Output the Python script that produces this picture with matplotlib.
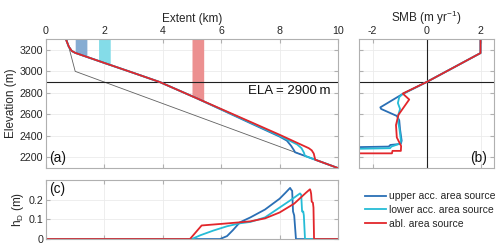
import matplotlib
matplotlib.use("Agg")
import matplotlib.pyplot as plt
import numpy as np

plt.rcParams['font.family'] = ['Liberation Sans', 'DejaVu Sans']
plt.rcParams['mathtext.default'] = 'regular'
plt.rcParams['axes.unicode_minus'] = False
plt.rcParams['font.size'] = 7.7

# --- data ---
labels = ['upper acc. area source', 'lower acc. area source', 'abl. area source']
colors = ['#2a6fb5', '#25bcd6', '#e2262b']
band_colors = ['#86acd2', '#84dce8', '#ec9090']
bands = [(1.0, 1.4), (1.8, 2.2), (5.0, 5.4)]
ela = 2900

# bed (thin grey)
bed_x = [0.71, 1.0, 10.0]
bed_z = [3300, 3000, 2100]

# glacier surfaces (a)
surf_top_x = [0.68, 0.78, 0.88, 1.0, 2.0, 3.0, 3.9, 5.2]
surf_top_z = [3300, 3230, 3190, 3172, 3078, 2985, 2900, 2745]
surf_up_x = [7.0, 8.0, 8.25, 8.4, 8.5, 8.53, 10.0]
surf_up_z = [2518, 2393, 2355, 2305, 2262, 2247, 2100]
surf_lo_x = [7.0, 8.0, 8.6, 8.75, 8.83, 8.87, 10.0]
surf_lo_z = [2524, 2400, 2320, 2285, 2245, 2213, 2100]
surf_abl_x = [7.0, 8.0, 8.6, 9.0, 9.1, 9.17, 9.22, 10.0]
surf_abl_z = [2530, 2410, 2335, 2285, 2265, 2235, 2178, 2100]

# SMB profiles (b)
smb_up = [2, 2, 0, -0.88, -1.71, -1.68, -1.1, -1.01, -0.98, -0.92, -0.95, -1.34, -1.4, -3.0]
z_up = [3300, 3170, 2900, 2790, 2665, 2650, 2585, 2545, 2462, 2355, 2325, 2315, 2300, 2293]
smb_lo = [2, 2, 0, -0.88, -1.01, -1.06, -0.98, -1.05, -1.06, -1.0, -0.95, -0.96, -1.3, -1.35, -3.0]
z_lo = [3300, 3170, 2900, 2790, 2760, 2705, 2650, 2590, 2540, 2460, 2360, 2330, 2300, 2285, 2277]
smb_abl = [2, 2, 0, -0.88, -0.64, -1.04, -1.13, -1.1, -0.94, -0.95, -1.26, -1.28, -3.0]
z_abl = [3300, 3170, 2900, 2793, 2738, 2595, 2500, 2385, 2305, 2260, 2260, 2237, 2237]

# debris thickness (c)
hd_up_x = [0, 5.96, 6.2, 6.4, 6.64, 7.0, 7.5, 8.0, 8.2, 8.36, 8.40, 8.43, 8.46, 8.5, 8.56, 10]
hd_up = [0, 0, 0.015, 0.045, 0.085, 0.11, 0.15, 0.205, 0.235, 0.26, 0.25, 0.245, 0.14, 0.12, 0, 0]
hd_lo_x = [0, 4.99, 5.3, 5.73, 6.2, 6.64, 7.0, 7.5, 8.0, 8.4, 8.7, 8.74, 8.77, 8.81, 8.83, 8.87, 10]
hd_lo = [0, 0, 0.02, 0.043, 0.065, 0.08, 0.087, 0.11, 0.16, 0.2, 0.232, 0.225, 0.14, 0.14, 0.12, 0, 0]
hd_abl_x = [0, 4.93, 5.33, 6.0, 6.64, 7.0, 7.5, 8.0, 8.5, 8.9, 9.04, 9.06, 9.08, 9.1, 9.14, 9.16, 9.18, 10]
hd_abl = [0, 0, 0.069, 0.077, 0.085, 0.09, 0.105, 0.135, 0.18, 0.235, 0.253, 0.245, 0.23, 0.19, 0.185, 0.16, 0, 0]

txt = '#262626'
edge = '#b0b0b0'
gridc = '#ebebeb'


def style(ax):
    for s in ax.spines.values():
        s.set_color(edge)
        s.set_linewidth(0.8)
    ax.tick_params(direction='in', length=3, color=edge, labelcolor=txt,
                   top=True, right=True, pad=2)
    ax.grid(True, color=gridc, lw=0.6)
    ax.set_axisbelow(True)


fig = plt.figure(figsize=(5.0, 2.49), dpi=100)
ax_a = fig.add_axes([0.092, 0.325, 0.584, 0.518])
ax_b = fig.add_axes([0.718, 0.325, 0.270, 0.518])
ax_c = fig.add_axes([0.092, 0.040, 0.584, 0.237])

# (a)
style(ax_a)
surf_x = [surf_top_x + surf_up_x, surf_top_x + surf_lo_x, surf_top_x + surf_abl_x]
surf_z = [surf_top_z + surf_up_z, surf_top_z + surf_lo_z, surf_top_z + surf_abl_z]
for (b0, b1), bc in zip(bands, band_colors):
    xx = np.linspace(b0, b1, 20)
    zz = np.interp(xx, surf_x[2], surf_z[2])
    ax_a.fill_between(xx, zz, 3300, color=bc, lw=0)
ax_a.plot(bed_x, bed_z, color='#606060', lw=0.6)
ax_a.axhline(ela, color='#202020', lw=0.8)
for x, z, c in zip(surf_x, surf_z, colors):
    ax_a.plot(x, z, color=c, lw=1.3)
ax_a.set_xlim(0, 10)
ax_a.set_ylim(2100, 3300)
ax_a.set_xticks(np.arange(0, 11, 2))
ax_a.set_yticks(np.arange(2200, 3201, 200))
ax_a.xaxis.tick_top()
ax_a.tick_params(bottom=True, labelbottom=False, labeltop=True)
ax_a.xaxis.set_label_position('top')
ax_a.set_xlabel('Extent (km)', color=txt, fontsize=8.5, labelpad=3)
ax_a.set_ylabel('Elevation (m)', color=txt, fontsize=8.5, labelpad=2)
ax_a.text(9.75, 2815, 'ELA = 2900\u2009m', ha='right', va='center',
          fontsize=9.5, color='#111111')
ax_a.text(0.1, 2190, '(a)', ha='left', va='center', fontsize=9.8, color='#111111')

# (b)
style(ax_b)
ax_b.axhline(ela, color='#202020', lw=0.8)
ax_b.axvline(0, color='#202020', lw=0.8)
ax_b.plot(smb_up, z_up, color=colors[0], lw=1.3)
ax_b.plot(smb_lo, z_lo, color=colors[1], lw=1.3)
ax_b.plot(smb_abl, z_abl, color=colors[2], lw=1.3)
ax_b.set_xlim(-2.5, 2.5)
ax_b.set_ylim(2100, 3300)
ax_b.set_xticks([-2, 0, 2])
ax_b.set_yticks(np.arange(2200, 3201, 200))
ax_b.xaxis.tick_top()
ax_b.tick_params(bottom=True, labelbottom=False, labeltop=True, labelleft=False)
ax_b.xaxis.set_label_position('top')
ax_b.set_xlabel('SMB (m yr$^{-1}$)', color=txt, fontsize=8.5, labelpad=3)
ax_b.text(2.25, 2195, '(b)', ha='right', va='center', fontsize=9.8, color='#111111')

# (c)
style(ax_c)
ax_c.plot(hd_up_x, hd_up, color=colors[0], lw=1.3, label=labels[0])
ax_c.plot(hd_lo_x, hd_lo, color=colors[1], lw=1.3, label=labels[1])
ax_c.plot(hd_abl_x, hd_abl, color=colors[2], lw=1.3, label=labels[2])
ax_c.set_xlim(0, 10)
ax_c.set_ylim(0, 0.3)
ax_c.set_xticks(np.arange(0, 11, 2))
ax_c.set_yticks([0, 0.1, 0.2])
ax_c.set_yticklabels(['0', '0.1', '0.2'])
ax_c.tick_params(labelbottom=False)
ax_c.set_ylabel('h$_D$ (m)', color=txt, fontsize=8.5, labelpad=2)
ax_c.text(0.1, 0.255, '(c)', ha='left', va='center', fontsize=9.8, color='#111111')

fig.legend(loc='center left', bbox_to_anchor=(0.712, 0.157), frameon=False,
           handlelength=2.0, handletextpad=0.25, labelspacing=0.35,
           fontsize=7.5, labelcolor=txt)

fig.savefig('out.png', dpi=100)
